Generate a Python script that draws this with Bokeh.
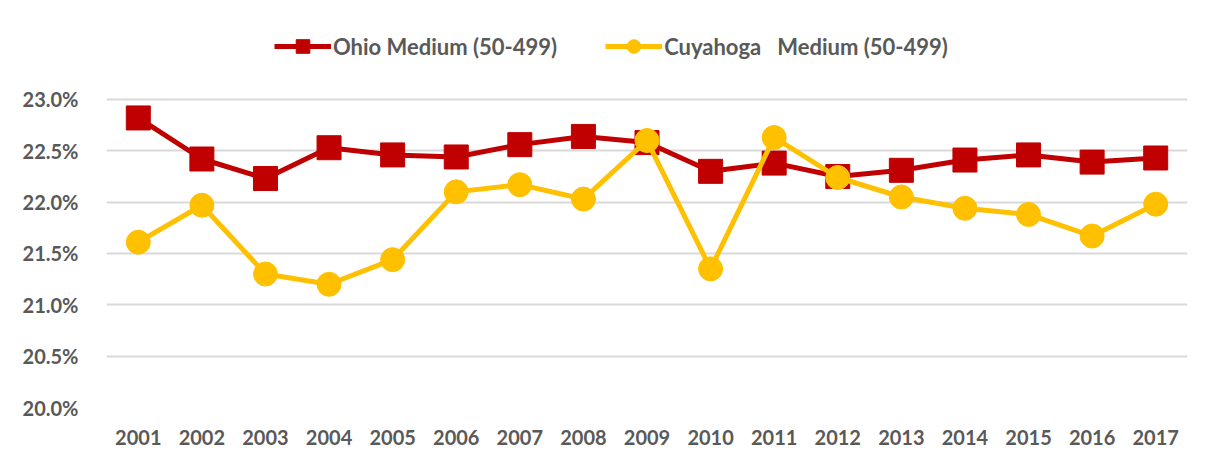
from bokeh.plotting import figure
from bokeh.models import FixedTicker, PrintfTickFormatter, Legend, LegendItem
from bokeh.embed import file_html
from bokeh.resources import INLINE

years = list(range(2001, 2018))
ohio = [22.82, 22.42, 22.23, 22.53, 22.46, 22.44, 22.56, 22.64, 22.58, 22.30,
        22.38, 22.25, 22.31, 22.41, 22.46, 22.39, 22.43]
cuyahoga = [21.61, 21.97, 21.30, 21.20, 21.44, 22.10, 22.17, 22.03, 22.60, 21.35,
            22.63, 22.24, 22.05, 21.94, 21.88, 21.67, 21.98]
y_ticks = [20.0, 20.5, 21.0, 21.5, 22.0, 22.5, 23.0]
ohio_label = "Ohio Medium (50-499)"
cuy_label = "Cuyahoga   Medium (50-499)"

RED = "#C00000"
YEL = "#FFC000"
GREY = "#595959"
FONT = "Lato"

# frame extends above the 23.0% gridline to leave room for the legend
p = figure(width=1198, height=456, output_backend="svg", toolbar_location=None,
           x_range=(2000.5, 2017.5), y_range=(20.0, 23.769),
           min_border_left=106, min_border_right=11, min_border_top=20, min_border_bottom=49)
p.outline_line_color = None
p.background_fill_color = "white"
p.border_fill_color = "white"

for ax in (p.xaxis[0], p.yaxis[0]):
    ax.axis_line_color = None
    ax.major_tick_line_color = None
    ax.minor_tick_line_color = None
    ax.major_label_text_font = FONT
    ax.major_label_text_font_style = "bold"
    ax.major_label_text_font_size = "20px"
    ax.major_label_text_color = GREY

p.xaxis.ticker = FixedTicker(ticks=years)
p.xaxis.major_label_standoff = 16
p.yaxis.ticker = FixedTicker(ticks=y_ticks)
p.yaxis.formatter = PrintfTickFormatter(format="%.1f%%")
p.yaxis.major_label_standoff = 22

p.xgrid.grid_line_color = None
p.ygrid.grid_line_color = "#D9D9D9"
p.ygrid.grid_line_width = 2
p.ygrid.ticker = FixedTicker(ticks=y_ticks)

r1 = p.line(years, ohio, line_color=RED, line_width=5)
r2 = p.scatter(years, ohio, marker="square", size=24, fill_color=RED, line_color=RED)
r3 = p.line(years, cuyahoga, line_color=YEL, line_width=5)
r4 = p.scatter(years, cuyahoga, marker="circle", size=24, fill_color=YEL, line_color=YEL)

legend = Legend(items=[LegendItem(label=ohio_label, renderers=[r1, r2]),
                       LegendItem(label=cuy_label, renderers=[r3, r4])],
                orientation="horizontal", location=(168, 344),
                label_text_font=FONT, label_text_font_size="22px", label_text_font_style="bold",
                label_text_color=GREY,
                glyph_width=57, glyph_height=34, label_standoff=2, spacing=48,
                padding=0, margin=0, border_line_color=None, background_fill_alpha=0)
p.add_layout(legend, "center")

open("out.html", "w").write(file_html(p, INLINE))
